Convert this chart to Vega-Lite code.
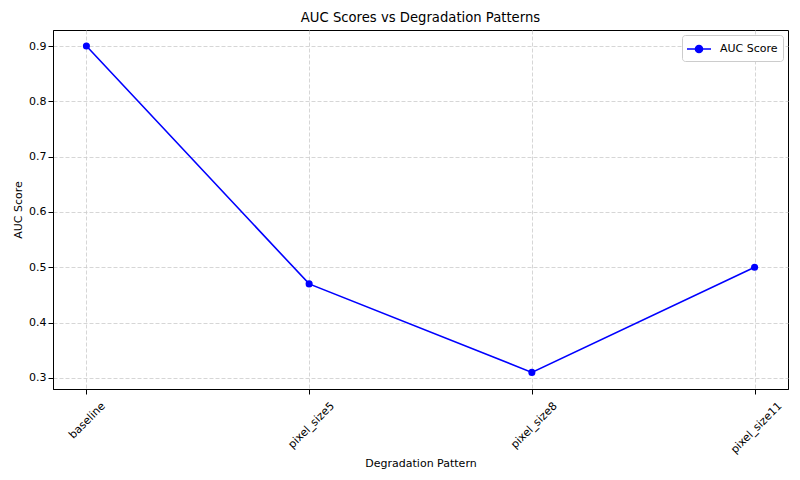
{
  "$schema": "https://vega.github.io/schema/vega-lite/v6.json",
  "autosize": "none",
  "width": 735,
  "height": 359,
  "padding": {"left": 53, "top": 30, "right": 12, "bottom": 91},
  "background": "white",
  "title": {"text": "AUC Scores vs Degradation Patterns", "font": "DejaVu Sans", "fontSize": 13.2, "fontWeight": "normal", "color": "black", "offset": 5},
  "config": {
    "font": "DejaVu Sans",
    "view": {"stroke": "black", "strokeWidth": 1},
    "axis": {
      "labelFont": "DejaVu Sans", "labelFontSize": 11, "labelColor": "black",
      "titleFont": "DejaVu Sans", "titleFontSize": 11, "titleFontWeight": "normal", "titleColor": "black",
      "domainColor": "black", "tickColor": "black", "tickSize": 5,
      "gridColor": "#cccccc", "gridDash": [4, 2], "gridWidth": 0.8
    }
  },
  "data": {
    "values": [
      {"pattern": "baseline", "auc": 0.9, "series": "AUC Score"},
      {"pattern": "pixel_size5", "auc": 0.47, "series": "AUC Score"},
      {"pattern": "pixel_size8", "auc": 0.31, "series": "AUC Score"},
      {"pattern": "pixel_size11", "auc": 0.5, "series": "AUC Score"}
    ]
  },
  "encoding": {
    "x": {
      "field": "pattern", "type": "nominal", "sort": null,
      "scale": {"type": "point", "padding": 0.15},
      "axis": {
        "title": "Degradation Pattern", "labelAngle": -45, "labelAlign": "right", "labelBaseline": "middle",
        "labelPadding": 10, "grid": true, "titlePadding": 3,
        "labelOffset": {"expr": "length(datum.label) * 2.1"}
      }
    },
    "y": {
      "field": "auc", "type": "quantitative",
      "scale": {"domain": [0.28, 0.929], "nice": false, "zero": false},
      "axis": {"title": "AUC Score", "values": [0.3, 0.4, 0.5, 0.6, 0.7, 0.8, 0.9], "format": ".1f", "grid": true, "titlePadding": 5.5}
    },
    "color": {
      "field": "series", "type": "nominal",
      "scale": {"range": ["blue"]},
      "legend": {
        "title": null, "orient": "top-right", "offset": 5,
        "strokeColor": "#cccccc", "fillColor": "white", "cornerRadius": 3, "padding": 5,
        "labelFont": "DejaVu Sans", "labelFontSize": 11, "labelColor": "black", "labelOffset": 12,
        "symbolType": "M-1.5,0H1.5M0.44,0A0.44,0.44 0 1,1 -0.44,0A0.44,0.44 0 1,1 0.44,0Z",
        "symbolSize": 256, "symbolOffset": 3, "symbolStrokeWidth": 1.6, "symbolFillColor": "blue", "symbolStrokeColor": "blue"
      }
    }
  },
  "layer": [
    {"mark": {"type": "line", "strokeWidth": 1.6}},
    {"mark": {"type": "point", "filled": true, "size": 50, "opacity": 1}}
  ]
}
